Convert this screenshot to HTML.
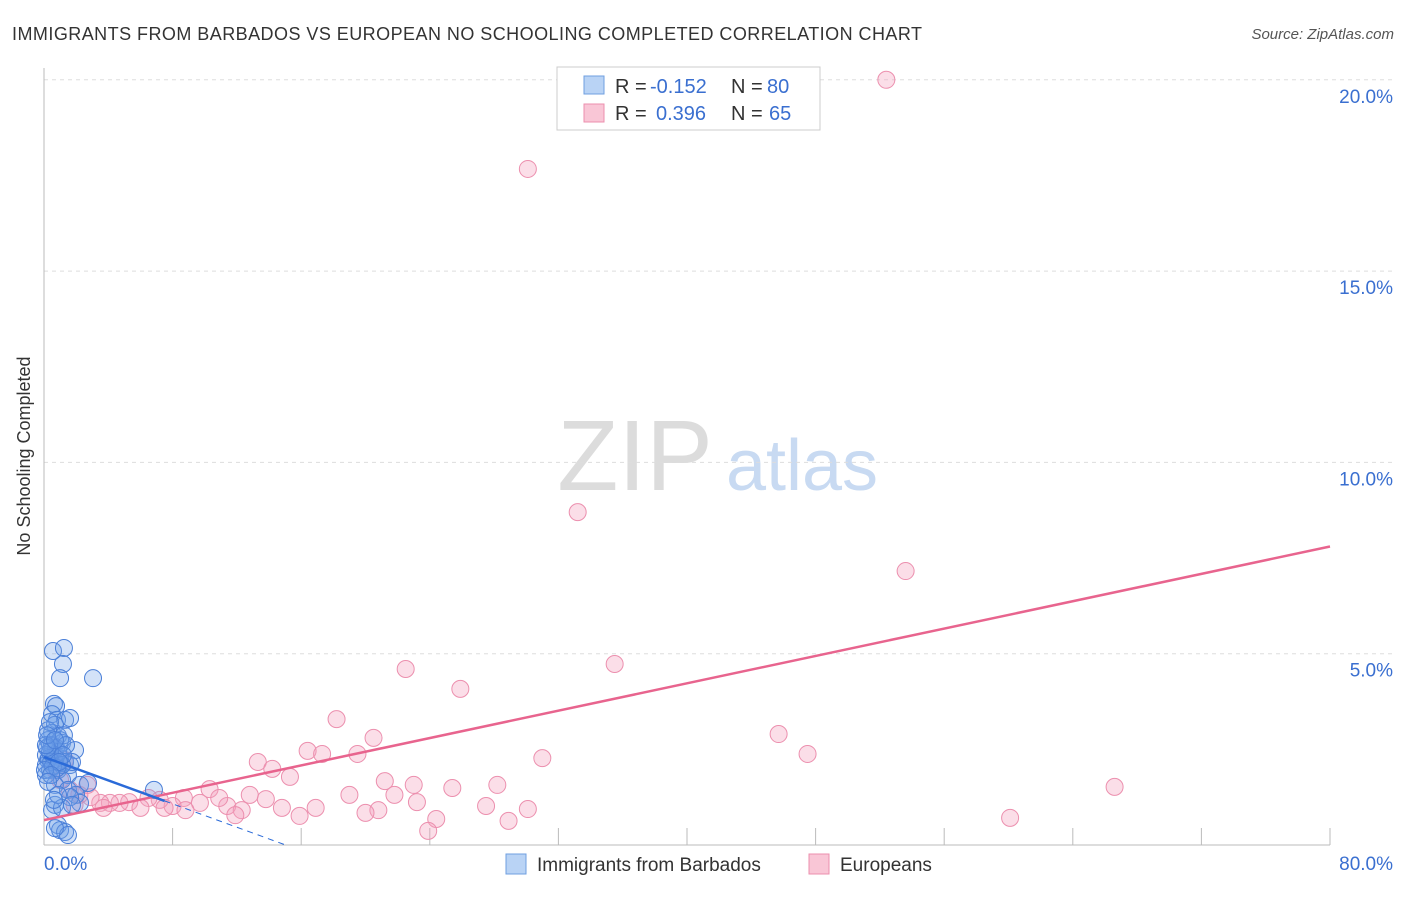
<!DOCTYPE html>
<html><head><meta charset="utf-8"><style>
body{margin:0;background:#fff;font-family:"Liberation Sans",sans-serif;}
svg text{font-family:"Liberation Sans",sans-serif;}
</style></head><body>
<svg id="chart" width="1406" height="892" xmlns="http://www.w3.org/2000/svg">
<text x="12" y="40" font-size="18" fill="#333" textLength="910">IMMIGRANTS FROM BARBADOS VS EUROPEAN NO SCHOOLING COMPLETED CORRELATION CHART</text>
<text x="1394" y="39" font-size="15" fill="#555" text-anchor="end" font-style="italic">Source: ZipAtlas.com</text>
<text x="30" y="456" font-size="18" fill="#333" text-anchor="middle" transform="rotate(-90 30 456)">No Schooling Completed</text>
<g><text x="635" y="490" font-size="100" fill="#dcdcdc" font-family="Liberation Serif" text-anchor="middle">ZIP</text><text x="802" y="490" font-size="72" fill="#c8daf2" text-anchor="middle">atlas</text></g>
<g id="grid"></g><g id="axes"></g><g id="pink"></g><g id="blue"></g><g id="trends"></g>
<g>
<rect x="557" y="67" width="263" height="63" fill="#fff" stroke="#ccc"/>
<rect x="584" y="76" width="20" height="18" fill="#b9d3f5" stroke="#6f9fe0"/>
<rect x="584" y="104" width="20" height="18" fill="#f9c6d6" stroke="#ec8fae"/>
<text x="615" y="93" font-size="20" fill="#333">R =</text><text x="650" y="93" font-size="20" fill="#3a6fd0">-0.152</text>
<text x="731" y="93" font-size="20" fill="#333">N =</text><text x="767" y="93" font-size="20" fill="#3a6fd0">80</text>
<text x="615" y="120" font-size="20" fill="#333">R =</text><text x="656" y="120" font-size="20" fill="#3a6fd0">0.396</text>
<text x="731" y="120" font-size="20" fill="#333">N =</text><text x="769" y="120" font-size="20" fill="#3a6fd0">65</text>
</g>
<g>
<rect x="506" y="854" width="20" height="20" fill="#b9d3f5" stroke="#6f9fe0"/>
<text x="537" y="871" font-size="19" fill="#333">Immigrants from Barbados</text>
<rect x="809" y="854" width="20" height="20" fill="#f9c6d6" stroke="#ec8fae"/>
<text x="840" y="871" font-size="19" fill="#333">Europeans</text>
</g>
</svg>
<script>
const yTicks=[5,10,15,20];
const yTickLabels=["5.0%","10.0%","15.0%","20.0%"];
const xTicks=[8,16,24,32,40,48,56,64,72,80];
const xLabels=["0.0%","80.0%"];
const blueX=[0.56,1.24,1.18,1.0,3.05,0.62,0.75,0.5,0.81,1.31,1.62,0.68,0.5,0.87,1.12,0.37,0.5,0.68,1.0,0.25,0.75,1.31,1.93,1.62,0.37,0.87,1.49,1.74,1.12,0.68,1.49,2.24,2.74,1.99,2.24,1.62,0.68,0.5,1.12,0.87,1.0,1.31,1.49,0.68,6.84,0.25,0.25,0.37,0.5,0.62,0.75,0.87,0.12,0.12,1.0,1.24,1.37,1.12,0.87,0.62,1.74,0.12,0.31,0.44,0.56,0.81,0.37,1.18,0.19,0.93,0.06,0.12,0.19,0.44,0.68,0.25];
const blueY=[5.07,5.15,4.73,4.36,4.36,3.69,3.63,3.42,3.27,3.27,3.32,3.14,2.93,2.85,2.67,2.61,2.48,2.35,2.27,2.22,2.09,2.17,2.48,2.09,1.96,1.96,1.83,2.17,1.70,1.57,1.44,1.57,1.62,1.31,1.10,1.25,1.05,0.91,0.97,0.52,0.39,0.34,0.26,0.44,1.44,2.74,3.0,3.21,2.61,2.22,2.54,2.43,2.09,1.83,2.74,2.87,2.61,2.09,1.31,1.18,1.05,2.35,2.27,2.17,2.06,2.01,2.43,2.35,2.54,2.17,1.96,2.61,2.87,1.83,2.74,1.65];
const pinkX=[52.4,30.1,33.2,53.6,35.5,22.5,25.9,18.2,20.5,45.7,47.5,16.4,17.3,19.5,31.0,13.3,14.2,15.3,21.2,23.0,28.2,25.4,66.6,19.0,21.8,23.2,27.5,30.1,20.8,20.0,16.9,14.8,15.9,13.8,12.8,11.4,12.3,11.9,10.3,10.9,9.7,8.7,8.0,7.2,6.5,5.3,4.7,4.1,3.5,2.9,2.2,1.6,1.0,0.7,1.3,24.4,23.9,28.9,60.1,7.5,6.0,3.7,8.8,1.9,2.7];
const pinkY=[20.0,17.67,8.70,7.16,4.73,4.60,4.08,3.29,2.80,2.90,2.38,2.46,2.38,2.38,2.27,2.17,1.99,1.78,1.67,1.57,1.57,1.49,1.52,1.31,1.31,1.12,1.02,0.94,0.91,0.84,0.97,0.97,0.76,1.20,1.31,1.02,0.91,0.78,1.46,1.23,1.10,1.23,1.02,1.18,1.23,1.12,1.10,1.10,1.10,1.25,1.31,1.44,1.70,1.96,2.22,0.68,0.37,0.63,0.71,0.97,0.97,0.97,0.91,1.05,1.57];
const blueTrend=[2.3,-0.153];
const pinkTrend=[0.65,0.0894];
const NS="http://www.w3.org/2000/svg";
const X=v=>44+v/80*1286, Y=v=>845-v*38.26;
function mk(tag,attrs,parent){const e=document.createElementNS(NS,tag);for(const k in attrs)e.setAttribute(k,attrs[k]);document.getElementById(parent).appendChild(e);return e;}
yTicks.forEach((t,i)=>{
 const l=mk('line',{x1:44,x2:1393,y1:Y(t),y2:Y(t),stroke:'#ddd','stroke-dasharray':'4,4'},'grid');
 
 
 const tx=mk('text',{x:1393,y:Y(t)+23,'font-size':19,fill:'#3a6fd0','text-anchor':'end'},'grid');tx.textContent=yTickLabels[i];
 
 
});
let a=mk('line',{x1:44,x2:44,y1:68,y2:845,stroke:'#bbb'},'axes');


a=mk('line',{x1:44,x2:1330,y1:845,y2:845,stroke:'#bbb'},'axes');


xTicks.forEach(t=>{const l=mk('line',{x1:X(t),x2:X(t),y1:828,y2:845,stroke:'#bbb'},'axes');
 
 });
let t0=mk('text',{x:44,y:870,'font-size':19,fill:'#3a6fd0'},'axes');t0.textContent=xLabels[0];


t0=mk('text',{x:1393,y:870,'font-size':19,fill:'#3a6fd0','text-anchor':'end'},'axes');t0.textContent=xLabels[1];


pinkX.forEach((x,i)=>{const c=mk('circle',{cx:X(x),cy:Y(pinkY[i]),r:8.5,fill:'rgba(244,160,188,0.35)',stroke:'#ec8fae','stroke-width':1},'pink');
 
 });
blueX.forEach((x,i)=>{const c=mk('circle',{cx:X(x),cy:Y(blueY[i]),r:8.5,fill:'rgba(110,160,232,0.3)',stroke:'#4a7fd8','stroke-width':1},'blue');
 
 });
let tl=mk('line',{x1:X(0),y1:Y(pinkTrend[0]),x2:X(80),y2:Y(pinkTrend[0]+80*pinkTrend[1]),stroke:'#e8648e','stroke-width':2.5},'trends');


tl=mk('line',{x1:X(0),y1:Y(blueTrend[0]),x2:X(7.5),y2:Y(blueTrend[0]+7.5*blueTrend[1]),stroke:'#2a6ad8','stroke-width':2.5},'trends');


tl=mk('line',{x1:X(7.5),y1:Y(blueTrend[0]+7.5*blueTrend[1]),x2:X(15),y2:Y(blueTrend[0]+15*blueTrend[1]),stroke:'#2a6ad8','stroke-width':1,'stroke-dasharray':'6,5'},'trends');


</script>
</body></html>
